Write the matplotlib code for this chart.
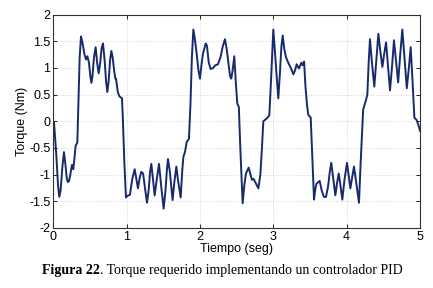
import matplotlib
matplotlib.use("Agg")
import matplotlib.pyplot as plt

time_s = [0.000, 0.010, 0.040, 0.065, 0.082, 0.100, 0.125, 0.146, 0.165, 0.185,
          0.200, 0.215, 0.230, 0.255, 0.273, 0.290, 0.305, 0.328, 0.340, 0.360,
          0.378, 0.395, 0.423, 0.446, 0.465, 0.487, 0.505, 0.520, 0.535, 0.555,
          0.578, 0.598, 0.619, 0.640, 0.660, 0.678, 0.700, 0.720, 0.737, 0.755,
          0.775, 0.792, 0.810, 0.830, 0.846, 0.855, 0.880, 0.900, 0.937, 0.950,
          0.970, 0.991, 1.010, 1.028, 1.045, 1.075, 1.110, 1.135, 1.155, 1.180,
          1.200, 1.225, 1.250, 1.278, 1.300, 1.320, 1.337, 1.360, 1.383, 1.410,
          1.442, 1.470, 1.505, 1.530, 1.550, 1.564, 1.590, 1.627, 1.650, 1.678,
          1.700, 1.737, 1.760, 1.774, 1.797, 1.819, 1.850, 1.870, 1.890, 1.910,
          1.930, 1.955, 1.980, 2.000, 2.020, 2.041, 2.078, 2.095, 2.120, 2.146,
          2.180, 2.210, 2.246, 2.282, 2.310, 2.341, 2.365, 2.386, 2.410, 2.427,
          2.445, 2.468, 2.490, 2.509, 2.530, 2.550, 2.582, 2.605, 2.627, 2.664,
          2.690, 2.709, 2.730, 2.764, 2.796, 2.823, 2.845, 2.864, 2.900, 2.923,
          2.946, 2.970, 3.000, 3.020, 3.040, 3.068, 3.090, 3.110, 3.128, 3.150,
          3.173, 3.210, 3.240, 3.273, 3.295, 3.318, 3.350, 3.382, 3.400, 3.420,
          3.437, 3.460, 3.477, 3.510, 3.530, 3.555, 3.575, 3.590, 3.632, 3.660,
          3.690, 3.718, 3.746, 3.770, 3.790, 3.815, 3.846, 3.870, 3.892, 3.915,
          3.941, 3.970, 4.005, 4.030, 4.050, 4.075, 4.100, 4.130, 4.168, 4.190,
          4.225, 4.264, 4.282, 4.300, 4.318, 4.345, 4.377, 4.405, 4.432, 4.460,
          4.487, 4.510, 4.537, 4.565, 4.591, 4.620, 4.645, 4.675, 4.702, 4.730,
          4.759, 4.790, 4.820, 4.848, 4.873, 4.900, 4.923, 4.955, 4.980, 5.000]

torque_nm = [0.00, -0.02, -0.60, -1.20, -1.42, -1.30, -0.85, -0.58, -0.80, -1.08,
             -1.14, -1.12, -1.02, -0.82, -0.90, -0.68, -0.46, -0.40, 0.20, 1.20,
             1.59, 1.50, 1.27, 1.16, 1.22, 1.10, 0.85, 0.72, 0.85, 1.20,
             1.39, 1.10, 0.90, 1.10, 1.38, 1.46, 1.15, 0.75, 0.55, 0.75,
             1.15, 1.32, 1.20, 0.95, 0.80, 0.80, 0.55, 0.47, 0.43, 0.00,
             -0.80, -1.43, -1.40, -1.39, -1.38, -1.10, -0.90, -1.10, -1.26, -1.05,
             -0.95, -0.98, -1.25, -1.53, -1.30, -0.95, -0.80, -1.10, -1.39, -1.10,
             -0.80, -1.20, -1.64, -1.30, -0.90, -0.71, -0.95, -1.48, -1.15, -0.85,
             -1.10, -1.43, -0.90, -0.67, -0.57, -0.39, -0.33, 0.30, 1.20, 1.72,
             1.55, 1.27, 0.95, 0.80, 1.05, 1.27, 1.46, 1.42, 1.10, 0.98,
             1.00, 1.05, 1.07, 1.21, 1.40, 1.54, 1.35, 1.12, 0.85, 0.80,
             0.95, 1.22, 0.70, 0.33, 0.27, -0.50, -1.54, -1.20, -0.98, -0.87,
             -1.00, -1.10, -1.08, -1.17, -1.26, -1.01, -0.50, 0.00, 0.04, 0.07,
             0.12, 0.80, 1.72, 1.35, 0.95, 0.43, 0.90, 1.40, 1.61, 1.35,
             1.20, 1.08, 1.00, 0.88, 0.95, 1.07, 0.99, 1.10, 1.05, 1.12,
             0.68, 0.30, 0.12, 0.07, -0.60, -1.47, -1.25, -1.17, -1.12, -1.30,
             -1.42, -1.42, -1.23, -0.95, -0.78, -1.05, -1.39, -1.15, -0.98, -1.20,
             -1.47, -1.10, -0.78, -1.05, -1.26, -1.05, -0.85, -1.15, -1.53, -0.80,
             0.22, 0.40, 0.50, 1.10, 1.54, 1.10, 0.65, 1.15, 1.64, 1.30,
             1.02, 1.25, 1.48, 1.00, 0.58, 1.05, 1.52, 1.10, 0.73, 1.25,
             1.72, 1.15, 0.62, 1.00, 1.39, 0.70, 0.07, 0.02, -0.08, -0.18]

x_ticks = [0, 1, 2, 3, 4, 5]
y_ticks = [-2, -1.5, -1, -0.5, 0, 0.5, 1, 1.5, 2]
y_tick_labels = ["-2", "-1.5", "-1", "-0.5", "0", "0.5", "1", "1.5", "2"]

fig = plt.figure(figsize=(4.33, 2.88), dpi=100)
ax = fig.add_axes([0.123, 0.209, 0.847, 0.740])

ax.plot(time_s, torque_nm, color="#172a6b", lw=1.4, solid_joinstyle="round")
ax.set_xlim(0, 5)
ax.set_ylim(-2, 2)
ax.set_xticks(x_ticks)
ax.set_yticks(y_ticks)
ax.set_yticklabels(y_tick_labels)
ax.grid(True, linestyle=(0, (1, 2)), color="#c8c8c8", lw=0.6)
ax.tick_params(direction="in", length=3, width=0.6, labelsize=9,
               top=True, right=True, pad=2)
for lab in ax.get_xticklabels() + ax.get_yticklabels():
    lab.set_fontfamily("Liberation Sans")
for s in ax.spines.values():
    s.set_linewidth(0.8)
    s.set_color("#333333")

ax.set_xlabel("Tiempo (seg)", fontsize=9, fontfamily="Liberation Sans", labelpad=0)
ax.set_ylabel("Torque (Nm)", fontsize=9, fontfamily="Liberation Sans", labelpad=1)

t1 = fig.text(0.098, 0.062, "Figura 22", fontsize=10, fontweight="bold",
              fontfamily="Liberation Serif", ha="left", va="center")
fig.canvas.draw()
bb = t1.get_window_extent()
x_next = bb.x1 / fig.bbox.width
fig.text(x_next, 0.062, ". Torque requerido implementando un controlador PID",
         fontsize=10, fontfamily="Liberation Serif", ha="left", va="center")

fig.savefig("out.png", dpi=100)
